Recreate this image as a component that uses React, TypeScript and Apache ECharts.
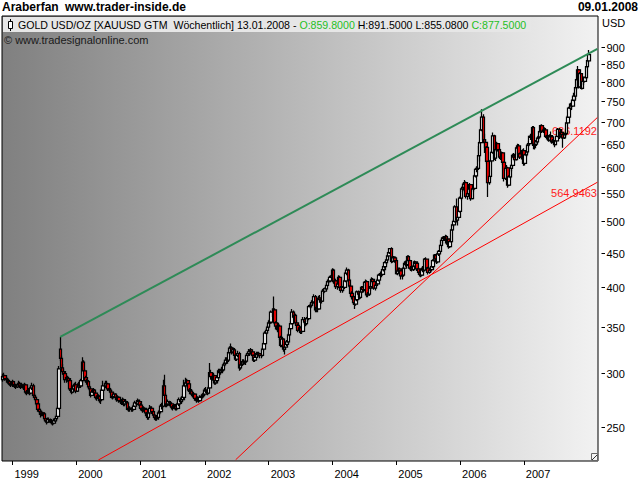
import React, { useEffect, useRef } from 'react';
import * as echarts from 'echarts';

// ---- axes ----
const yTicks = [250, 300, 350, 400, 450, 500, 550, 600, 650, 700, 750, 800, 850, 900];
const yearLabels = ['1999', '2000', '2001', '2002', '2003', '2004', '2005', '2006', '2007'];
const firstWeekMonday = '1998-11-09';
const totalWeekSlots = 486;
const yMin = 222.7;
const yMax = 1000;

// ---- weekly candles [open, close, low, high] ----
const w1998 = [
  [293,296,291,299],[296,297,294,300],[297,294,292,298],[294,293,290,296],
  [293,292,289,295],[292,291,288,294],[291,289,287,292],[289,288,286,291],
];
const w1999 = [
  [288,291,286,293],[291,288,286,292],[288,287,285,290],[287,286,284,289],
  [286,288,285,290],[288,289,286,292],[289,287,285,291],[287,287,284,290],
  [287,288,285,290],[288,285,283,289],[285,288,284,290],[288,281,279,289],[281,280,278,283],
  [280,283,279,285],[283,280,278,284],[280,285,279,287],[285,287,283,290],
  [287,278,276,289],[278,276,274,280],[276,274,272,277],[274,270,268,275],[270,265,263,271],
  [265,263,260,266],[263,261,258,264],[261,262,259,264],[262,261,259,263],
  [261,257,255,262],[257,255,254,258],[255,254,252,256],[254,256,253,258],
  [256,256,254,258],[256,255,253,257],[255,254,252,256],[254,253,251,255],[253,255,252,257],
  [255,257,254,259],[257,259,255,261],[259,266,258,268],[266,304,265,307],
  [325,315,312,338.5],[315,305,302,318],[305,301,298,309],[301,299,295,304],
  [299,293,290,301],[293,295,290,297],[295,294,291,297],[294,292,289,296],[292,284,282,294],
  [284,281,279,287],[281,284,280,286],[284,287,282,289],[287,288,284,290],
];
const w2000 = [
  [288,282,280,291],[282,286,281,288],[286,289,284,291],[289,287,285,290],
  [287,292,285,294],[292,311,290,316],[311,302,299,313],[302,295,292,304],
  [295,292,290,297],[292,291,288,294],[291,286,284,292],[286,284,282,288],[284,278,276,285],
  [278,281,277,283],[281,283,279,285],[283,280,278,284],[280,276,274,282],
  [276,275,273,278],[275,277,273,279],[277,273,271,278],[273,274,270,276],[274,283,273,285],
  [283,287,282,292],[287,287,284,290],[287,289,285,292],[289,289,286,292],
  [289,284,282,290],[284,283,281,286],[283,281,279,285],[281,276,275,283],[276,277,274,279],
  [277,279,275,281],[279,276,274,280],[276,274,272,277],[274,276,273,278],
  [276,273,271,277],[273,272,270,275],[272,271,269,274],[271,274,269,276],
  [274,270,268,275],[270,272,268,274],[272,271,268,273],[271,265,264,272],[265,266,263,268],
  [266,266,263,268],[266,265,263,267],[265,265,263,267],[265,268,264,270],
  [268,271,267,273],[271,270,268,273],[270,273,269,275],[273,272,270,274],
];
const w2001 = [
  [272,269,266,274],[269,266,264,271],[266,264,262,268],[264,266,263,268],[266,265,262,267],
  [265,262,259,266],[262,258,256,263],[258,262,256,264],[262,266,260,269],
  [266,266,263,268],[266,263,261,268],[263,260,258,264],[260,258,256,261],
  [258,257,255,260],[257,258,255,260],[258,262,256,264],[262,263,260,265],[263,268,262,270],
  [268,268,265,271],[268,287,267,293],[287,278,275,298],[278,269,267,280],
  [269,270,267,272],[270,272,268,274],[272,271,268,273],[271,270,267,272],
  [270,267,265,271],[267,266,264,269],[266,268,265,270],[268,266,264,270],[266,266,264,268],
  [266,270,265,272],[270,274,268,276],[274,272,270,276],[272,274,270,277],
  [274,276,272,279],[276,287,274,293],[287,290,285,295],[290,292,287,294],
  [292,289,286,293],[289,283,281,290],[283,282,279,285],[282,279,277,284],[279,279,276,282],
  [279,279,276,281],[279,275,273,280],[275,273,271,277],[273,275,272,277],
  [275,273,271,276],[273,276,272,278],[276,277,274,279],[277,278,275,280],[278,279,276,281],
];
const w2002 = [
  [279,283,277,285],[283,282,280,286],[282,280,278,284],[280,285,279,287],
  [285,300,284,310],[300,296,293,303],[296,295,292,298],[295,297,293,300],
  [297,290,288,298],[290,292,288,294],[292,295,290,297],[295,302,294,304],
  [302,300,297,304],[300,302,298,304],[302,303,300,306],[303,308,302,310],[308,310,306,313],
  [310,313,308,316],[313,313,309,316],[313,321,311,323],[321,326,319,328],
  [326,326,321,331],[326,322,319,328],[322,324,320,327],[324,318,315,326],
  [318,314,312,320],[314,318,312,320],[318,320,316,323],[320,305,302,322],[305,308,303,311],
  [308,309,306,312],[309,311,307,314],[311,311,308,314],[311,312,308,315],
  [312,318,311,320],[318,320,316,322],[320,322,318,325],[322,324,319,326],[324,322,319,325],
  [322,318,316,323],[318,313,311,319],[313,316,311,318],[316,320,315,322],
  [320,319,316,322],[319,320,317,322],[320,318,315,321],[318,318,315,320],
  [318,325,317,327],[325,331,323,333],[331,343,330,345],[343,346,341,349],[346,350,343,352],
];
const w2003 = [
  [350,355,348,358],[355,356,350,360],[356,368,354,370],[368,368,362,373],
  [368,371,364,388],[371,355,352,373],[355,351,347,357],[351,347,344,355],
  [347,351,345,355],[351,338,335,353],[338,329,327,340],[329,336,327,338],[336,325,322,337],
  [325,327,319,330],[327,330,324,332],[330,333,328,335],[333,341,331,343],
  [341,348,339,350],[348,354,346,357],[354,368,353,372],[368,362,359,370],
  [362,364,359,367],[364,355,353,366],[355,352,349,358],[352,346,344,354],[346,349,343,351],
  [349,345,342,351],[345,345,342,348],[345,359,344,362],[359,356,353,362],
  [356,354,351,358],[354,360,352,362],[360,360,356,364],[360,375,358,377],
  [375,377,372,380],[377,380,374,383],[380,381,376,384],[381,388,379,391],[388,371,368,390],
  [371,374,368,377],[374,372,368,375],[372,386,371,389],[386,384,380,390],
  [384,382,379,387],[382,395,381,398],[395,395,391,399],[395,398,393,400],
  [398,403,396,406],[403,408,401,411],[408,409,405,412],[409,414,407,416],[414,416,411,418],
];
const w2004 = [
  [416,424,413,427],[424,408,405,426],[408,409,404,413],[409,401,398,412],
  [401,405,397,408],[405,414,403,417],[414,400,398,416],[400,396,393,402],
  [396,400,393,402],[400,400,395,404],[400,409,398,411],[409,420,407,422],[420,424,417,428],
  [424,410,407,426],[410,402,399,412],[402,392,389,404],[392,388,384,395],
  [388,380,377,390],[380,378,372,382],[378,384,376,386],[384,394,382,396],[394,391,388,396],
  [391,387,384,393],[387,394,385,396],[394,400,392,402],[400,397,393,402],
  [397,407,395,409],[407,408,402,411],[408,390,387,410],[390,391,387,394],
  [391,399,389,401],[399,401,396,404],[401,411,399,414],[411,408,405,413],[408,399,397,410],
  [399,403,396,405],[403,405,401,408],[405,410,403,413],[410,417,408,419],
  [417,419,414,422],[419,418,414,422],[418,425,416,427],[425,429,422,431],
  [429,435,426,437],[435,439,432,441],[439,445,437,447],[445,450,443,452],[450,456,448,457],
  [456,437,434,458],[437,443,435,445],[443,442,438,445],[442,438,435,444],
];
const w2005 = [
  [438,419,418,441],[419,423,417,426],[423,426,420,428],[426,423,420,428],[423,416,411,425],
  [416,417,411,419],[417,427,415,429],[427,434,425,437],[434,432,429,438],
  [432,444,430,446],[444,438,435,446],[438,427,425,440],[427,427,423,430],
  [427,425,422,429],[425,430,423,432],[430,436,428,438],[436,434,430,437],
  [434,426,423,436],[426,421,418,428],[421,418,415,423],[418,417,414,420],[417,426,415,428],
  [426,424,421,430],[424,440,422,442],[440,440,436,443],[440,427,424,441],
  [427,421,418,429],[421,424,419,426],[424,425,420,428],[425,429,422,431],
  [429,438,427,440],[438,446,436,448],[446,440,437,448],[440,436,433,442],[436,448,434,450],
  [448,452,445,454],[452,461,450,463],[461,469,459,472],[469,473,464,475],
  [473,472,468,476],[472,475,469,478],[475,465,462,477],[465,471,463,474],[471,459,456,472],
  [459,467,457,469],[467,486,465,488],[486,494,484,496],[494,500,491,503],
  [500,525,498,528],[525,502,498,540],[502,507,493,509],[507,517,505,519],
];
const w2006 = [
  [517,541,515,544],[541,558,537,560],[558,561,552,564],[561,567,555,570],[567,570,560,575],
  [570,544,540,572],[544,549,538,553],[549,558,546,561],[558,566,555,569],
  [566,540,536,567],[540,558,539,560],[558,559,553,563],[559,583,557,586],
  [583,596,580,598],[596,598,590,602],[598,624,596,645],[624,652,612,656],
  [652,681,650,684],[681,711,678,730],[711,659,651,718],[659,653,630,672],[653,642,638,660],
  [642,612,608,645],[612,570,543,613],[570,582,566,595],[582,613,578,616],
  [613,631,610,634],[631,667,628,675],[667,619,615,670],[619,637,613,640],[637,650,632,654],
  [650,637,633,652],[637,621,617,640],[621,621,615,628],[621,630,616,633],
  [630,610,605,632],[610,578,572,612],[578,598,575,601],[598,599,593,605],
  [599,565,560,601],[565,581,563,584],[581,598,578,600],[598,604,592,606],[604,625,601,628],
  [625,621,617,630],[621,616,612,628],[616,641,614,644],[641,645,637,650],
  [645,628,624,649],[628,621,617,631],[621,621,616,625],[621,635,619,638],
];
const w2007 = [
  [635,608,603,640],[608,626,604,628],[626,632,622,636],[632,647,628,650],[647,650,643,655],
  [650,666,647,668],[666,664,658,672],[664,686,662,690],[686,646,638,690],
  [646,649,637,656],[649,654,640,658],[654,662,652,665],[662,665,658,669],
  [665,677,663,680],[677,691,674,693],[691,678,674,694],[678,681,674,686],
  [681,681,673,687],[681,666,663,685],[666,664,659,670],[664,658,654,667],[658,668,655,671],
  [668,665,660,677],[665,654,650,667],[654,656,651,660],[656,648,642,658],
  [648,656,647,659],[656,666,654,668],[666,682,664,685],[682,667,660,685],[667,675,663,678],
  [675,670,662,683],[670,663,641,673],[663,670,660,673],[670,673,664,676],
  [673,697,671,700],[697,711,694,716],[711,733,709,736],[733,743,727,746],
  [743,738,728,745],[738,753,736,756],[753,763,750,772],[763,785,755,788],[785,807,780,810],
  [807,834,805,845],[834,787,783,836],[787,823,785,828],[823,783,780,825],
  [783,802,781,807],[802,802,792,815],[802,812,799,815],[812,843,808,845],[843,860,838,868],
];
const w2008 = [[859.8, 877.5, 855.08, 891.5]];

// ---- trend lines [week index, price] ----
const greenLine = [[47, 338.5], [485, 895]];
const redLineA = [[78, 223.4], [485, 570.6]];
const redLineB = [[190, 223.6], [485, 710]];
const redLabelA = '564.9463';
const redLabelB = '686.1192';

// ---- header texts ----
const headerLeft = 'Araberfan';
const headerSite = 'www.trader-inside.de';
const headerDate = '09.01.2008';
const titleMain = 'GOLD USD/OZ [XAUUSD GTM  Wöchentlich] 13.01.2008 - ';
const titleO = 'O:859.8000';
const titleHL = ' H:891.5000 L:855.0800 ';
const titleC = 'C:877.5000';
const copyright = '© www.tradesignalonline.com';

const FONT = '"Liberation Sans", Arial, sans-serif';

function buildWeeks(): string[] {
  const start = Date.parse(firstWeekMonday + 'T00:00:00Z');
  const out: string[] = [];
  for (let i = 0; i < totalWeekSlots; i++) {
    const d = new Date(start + i * 7 * 86400000);
    const m = String(d.getUTCMonth() + 1).padStart(2, '0');
    const day = String(d.getUTCDate()).padStart(2, '0');
    out.push(`${d.getUTCFullYear()}-${m}-${day}`);
  }
  return out;
}

export default function App() {
  const ref = useRef<HTMLDivElement>(null);
  useEffect(() => {
    if (!ref.current) return;
    const chart = echarts.init(ref.current, null, { renderer: 'svg', width: 640, height: 480 });
    const weeks = buildWeeks();
    const ohlc = [...w1998, ...w1999, ...w2000, ...w2001, ...w2002, ...w2003, ...w2004, ...w2005, ...w2006, ...w2007, ...w2008];
    const isYearStart = (index: number, value: string) => {
      const y = value.slice(0, 4);
      if (!yearLabels.includes(y)) return false;
      return index > 0 && weeks[index - 1].slice(0, 4) !== y;
    };

    const option: any = {
      animation: false,
      backgroundColor: '#ffffff',
      textStyle: { fontFamily: FONT },
      grid: {
        left: 2, top: 16, width: 596, height: 445,
        show: true, borderColor: '#000', borderWidth: 1,
        backgroundColor: new echarts.graphic.LinearGradient(0, 0, 1, 0, [
          { offset: 0, color: '#808080' },
          { offset: 1, color: '#f2f2f2' },
        ]),
        containLabel: false,
        outerBoundsMode: 'none',
      },
      xAxis: {
        type: 'category',
        data: weeks,
        boundaryGap: true,
        axisLine: { show: false },
        axisTick: { show: true, interval: isYearStart, alignWithLabel: true, length: 4, lineStyle: { color: '#000' } },
        axisLabel: {
          interval: isYearStart,
          formatter: (v: string) => v.slice(0, 4),
          align: 'left',
          padding: [0, 0, 0, 2],
          margin: 7,
          color: '#000',
          fontSize: 11,
          fontFamily: FONT,
        },
        splitLine: { show: false },
      },
      yAxis: {
        type: 'log',
        logBase: 10,
        min: yMin,
        max: yMax,
        position: 'right',
        axisLine: { show: false },
        axisTick: { show: false },
        axisLabel: { show: false },
        splitLine: { show: false },
      },
      graphic: [
        { type: 'text', x: 2, y: 7, z: 10, style: { text: headerLeft, font: `bold 12px ${FONT}`, fill: '#000', verticalAlign: 'middle' } },
        { type: 'text', x: 65, y: 7, z: 10, style: { text: headerSite, font: `bold 12px ${FONT}`, fill: '#000', verticalAlign: 'middle' } },
        { type: 'text', x: 638, y: 7, z: 10, style: { text: headerDate, font: `bold 12px ${FONT}`, fill: '#000', align: 'right', verticalAlign: 'middle' } },
        { type: 'rect', z: 9, shape: { x: 3, y: 17, width: 528, height: 15 }, style: { fill: '#e6e6e6' } },
        { type: 'line', z: 10, shape: { x1: 10.5, y1: 19, x2: 10.5, y2: 31 }, style: { stroke: '#000', lineWidth: 1 } },
        { type: 'rect', z: 10, shape: { x: 8.5, y: 21.5, width: 4, height: 7 }, style: { fill: '#fff', stroke: '#000', lineWidth: 1 } },
        {
          type: 'text', x: 18, y: 24.5, z: 10,
          style: {
            text: `{k|${titleMain}}{g|${titleO}}{k|${titleHL}}{g|${titleC}}`,
            font: `10.6px ${FONT}`,
            verticalAlign: 'middle',
            rich: {
              k: { fill: '#000', font: `10.6px ${FONT}` },
              g: { fill: '#1fbf1f', font: `10.6px ${FONT}` },
            },
          },
        },
        { type: 'text', x: 4, y: 39.5, z: 10, style: { text: copyright, font: `11px ${FONT}`, fill: '#1a1a1a', verticalAlign: 'middle' } },
        { type: 'text', x: 602, y: 23, z: 10, style: { text: 'USD', font: `11px ${FONT}`, fill: '#000', verticalAlign: 'middle' } },
        { type: 'text', x: 597, y: 131, z: 1, style: { text: redLabelB, font: `11px ${FONT}`, fill: '#ff1a1a', align: 'right', verticalAlign: 'middle' } },
        { type: 'text', x: 597, y: 192.5, z: 1, style: { text: redLabelA, font: `11px ${FONT}`, fill: '#ff1a1a', align: 'right', verticalAlign: 'middle' } },
        { type: 'rect', z: 10, shape: { x: 591.5, y: 453.5, width: 6, height: 7 }, style: { fill: '#f4f4f4', stroke: '#666', lineWidth: 1 } },
        { type: 'line', z: 10, shape: { x1: 592, y1: 460, x2: 597, y2: 455 }, style: { stroke: '#333', lineWidth: 1 } },
      ],
      series: [
        {
          type: 'candlestick',
          data: ohlc,
          barWidth: 3,
          large: false,
          silent: true,
          z: 2,
          itemStyle: {
            color: '#ffffff', color0: '#ff0000',
            borderColor: '#000000', borderColor0: '#000000', borderColorDoji: '#000000',
            borderWidth: 1.25,
          },
        },
        { type: 'line', data: redLineA, symbol: 'none', silent: true, z: 3, lineStyle: { color: '#ff0000', width: 1 } },
        { type: 'line', data: redLineB, symbol: 'none', silent: true, z: 3, lineStyle: { color: '#ff0000', width: 1 } },
        { type: 'line', data: greenLine, symbol: 'none', silent: true, z: 4, lineStyle: { color: '#2e8b57', width: 2 } },
        {
          type: 'custom',
          data: yTicks.map((v) => [0, v]),
          encode: { x: 0, y: 1 },
          silent: true,
          clip: false,
          z: 5,
          renderItem: (params: any, api: any) => {
            const v = api.value(1);
            const y = Math.round(api.coord([0, v])[1]) + 0.5;
            const cs = params.coordSys;
            const xr = cs.x + cs.width;
            return {
              type: 'group',
              children: [
                { type: 'line', shape: { x1: xr + 3.5, y1: y, x2: xr + 7, y2: y }, style: { stroke: '#000', lineWidth: 1 } },
                { type: 'text', x: xr + 8.5, y: y, style: { text: String(v), fill: '#000', font: `11px ${FONT}`, verticalAlign: 'middle', align: 'left' } },
              ],
            };
          },
        },
      ],
    };
    chart.setOption(option);
    return () => chart.dispose();
  }, []);
  return (
    <div
      ref={ref}
      style={{ position: 'fixed', left: 0, top: 0, width: 640, height: 480, background: '#fff' }}
    />
  );
}
